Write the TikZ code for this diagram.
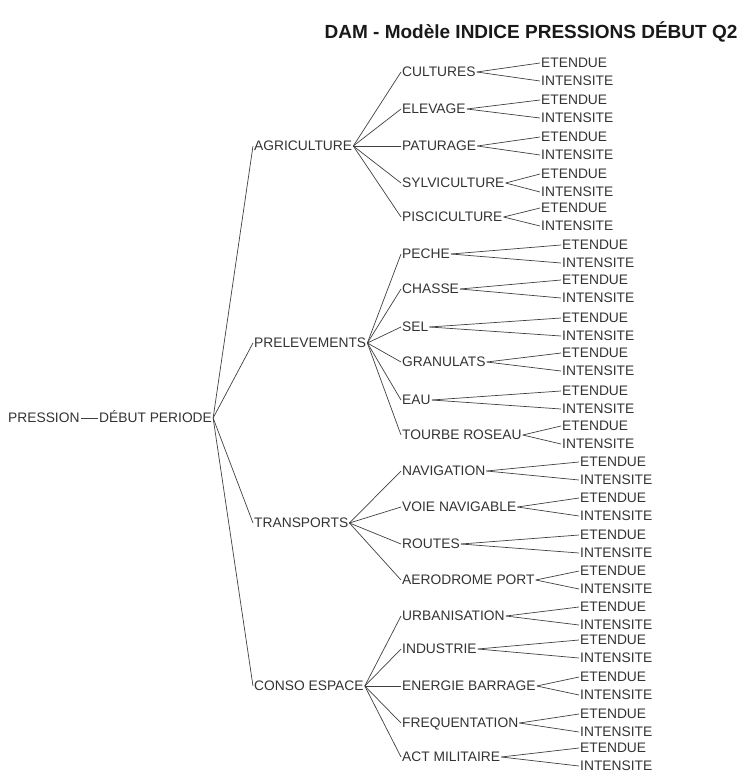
\documentclass[tikz,border=0pt]{standalone}
\usepackage{fontspec}
\setmainfont{Liberation Sans}
\usepackage{tikz}

\begin{document}
\begin{tikzpicture}[x=1pt,y=-1pt,
	tree_node/.style={anchor=west,inner sep=1pt,text=black!80,font=\fontsize{13.8}{16}\selectfont,text height=9.8pt,text depth=0pt},
	tree_edge/.style={draw,black!75,line width=.7pt}]

		\useasboundingbox (0,0) rectangle (739,771);

		% title at the top right
		\node[font=\fontsize{19}{22}\selectfont\bfseries,text=black!90] (title) at (531,32) {DAM - Modèle INDICE PRESSIONS DÉBUT Q2};

		% root and first split
		\node[tree_node] (pre) at (7,418) {PRESSION};
		\node[tree_node] (deb) at (98,418) {DÉBUT PERIODE};
		\node[tree_node] (agr) at (253,146) {AGRICULTURE};
		\node[tree_node] (prl) at (253,343) {PRELEVEMENTS};
		\node[tree_node] (tra) at (253,523) {TRANSPORTS};
		\node[tree_node] (con) at (253,686) {CONSO ESPACE};

		\path[tree_edge]
		(pre) edge (deb)
		(deb.east) edge (agr.west)
		(deb.east) edge (prl.west)
		(deb.east) edge (tra.west)
		(deb.east) edge (con.west)
		;

		% second split: each item gets its two leaves
		% name / label / y / parent / x of the leaves
		\foreach \n/\t/\y/\p/\lx in {
			cul/CULTURES/72/agr/540, ele/ELEVAGE/109/agr/540, pat/PATURAGE/146/agr/540,
			syl/SYLVICULTURE/183/agr/540, pis/PISCICULTURE/217/agr/540,
			pec/PECHE/254/prl/561, cha/CHASSE/289/prl/561, sel/SEL/327/prl/561,
			gra/GRANULATS/362/prl/561, eau/EAU/400/prl/561, tou/TOURBE ROSEAU/435/prl/561,
			nav/NAVIGATION/471/tra/579, voi/VOIE NAVIGABLE/507/tra/579, rou/ROUTES/544/tra/579,
			aer/AERODROME PORT/580/tra/579,
			urb/URBANISATION/616/con/579, ind/INDUSTRIE/649/con/579, ene/ENERGIE BARRAGE/686/con/579,
			fre/FREQUENTATION/723/con/579, act/ACT MILITAIRE/757/con/579}
		{
			\node[tree_node] (\n) at (401,\y) {\t};
			\node[tree_node] (\n-e) at (\lx,\y-9) {ETENDUE};
			\node[tree_node] (\n-i) at (\lx,\y+9) {INTENSITE};
			\path[tree_edge]
			(\p.east) edge (\n.west)
			(\n.east) edge (\n-e.west)
			(\n.east) edge (\n-i.west)
			;
		}

	\end{tikzpicture}
\end{document}
